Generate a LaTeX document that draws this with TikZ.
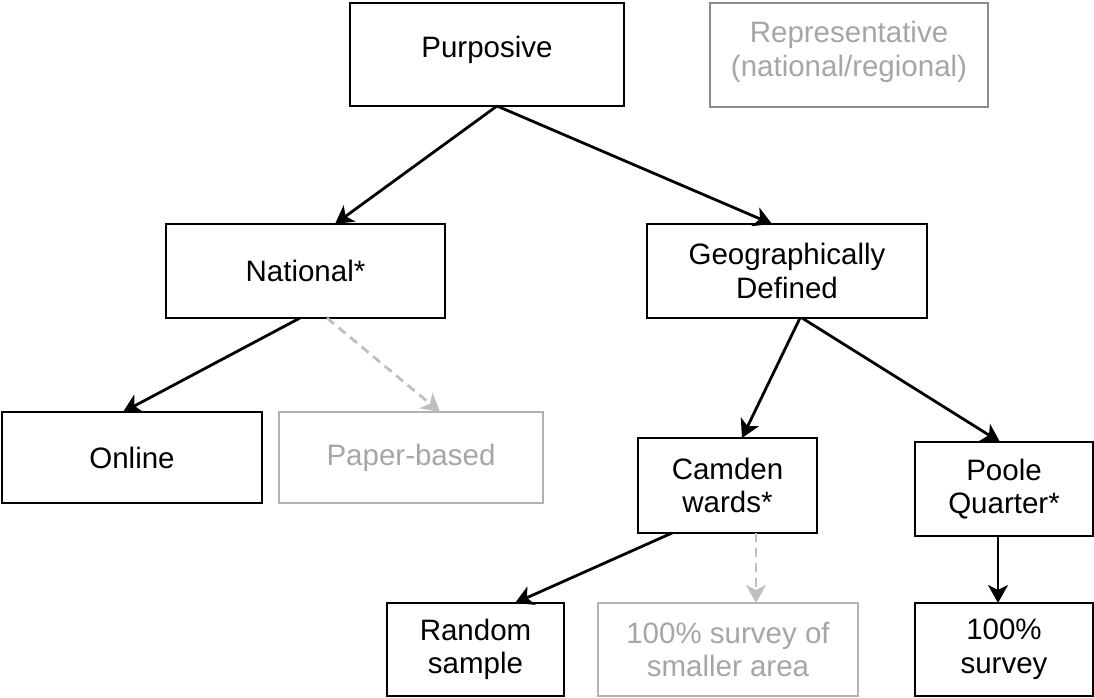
\documentclass[tikz,border=0pt]{standalone}
\usepackage{fontspec}
\setmainfont{Liberation Sans}
\usetikzlibrary{arrows.meta}
\definecolor{greytext}{RGB}{166,166,166}
\definecolor{greyframe}{RGB}{178,178,178}
\definecolor{greyframedark}{RGB}{140,140,140}
\definecolor{greydash}{RGB}{191,191,191}
\begin{document}
\begin{tikzpicture}[x=1pt,y=-1pt,
  box/.style={draw=black, line width=2.6pt, inner sep=0pt, outer sep=0pt,
    align=center, font=\fontsize{29.5}{33.5}\selectfont, fill=white},
  ghostbox/.style={box, draw=greyframe, text=greytext},
  link/.style={draw=black, line width=2.8pt, -{Stealth[length=18pt,width=20pt,inset=5pt]}},
  ghostlink/.style={draw=greydash, line width=2.8pt, dash pattern=on 9pt off 6pt,
    -{Stealth[length=18pt,width=20pt,inset=5pt]}}]
\useasboundingbox (0,0) rectangle (1094,698);

% top level
\node[box, minimum width=274, minimum height=103, text depth=15pt] (purp) at (487,54.5) {Purposive};
\node[ghostbox, draw=greyframedark, minimum width=278, minimum height=104, text depth=12pt] (repr) at (849,55) {Representative\\(national/regional)};

% second level
\node[box, minimum width=279, minimum height=94] (nat) at (305.5,271) {National*};
\node[box, minimum width=280, minimum height=94] (geo) at (787,271) {Geographically\\Defined};

% third level
\node[box, minimum width=260, minimum height=91] (online) at (132,457.5) {Online};
\node[ghostbox, minimum width=264, minimum height=91] (paper) at (411,457.5) {Paper-based};
\node[box, minimum width=179, minimum height=95] (camden) at (727.5,485.5) {Camden\\wards*};
\node[box, minimum width=178, minimum height=94] (poole) at (1004,489) {Poole\\Quarter*};

% fourth level
\node[box, minimum width=177, minimum height=93] (random) at (475.5,649.5) {Random\\sample};
\node[ghostbox, minimum width=260, minimum height=93] (smaller) at (728,649.5) {100\% survey of\\smaller area};
\node[box, minimum width=178, minimum height=93] (full) at (1004,649.5) {100\%\\survey};

% connectors
\draw[link] ([xshift=10pt]purp.south) -- ([xshift=29.5pt]nat.north);
\draw[link] ([xshift=10pt]purp.south) -- ([xshift=-15pt]geo.north);
\draw[link] ([xshift=-5.5pt]nat.south) -- ([xshift=-9pt]online.north);
\draw[ghostlink] ([xshift=21.5pt]nat.south) -- ([xshift=29pt]paper.north);
\draw[link] ([xshift=13pt]geo.south) -- ([xshift=14.5pt]camden.north);
\draw[link] ([xshift=15pt]geo.south) -- ([xshift=-4pt]poole.north);
\draw[link] ([xshift=-55.5pt]camden.south) -- ([xshift=39.5pt]random.north);
\draw[ghostlink] ([xshift=28.5pt]camden.south) -- ([xshift=28pt]smaller.north);
\draw[link] ([xshift=-6pt]poole.south) -- ([xshift=-6pt]full.north);
\end{tikzpicture}
\end{document}
